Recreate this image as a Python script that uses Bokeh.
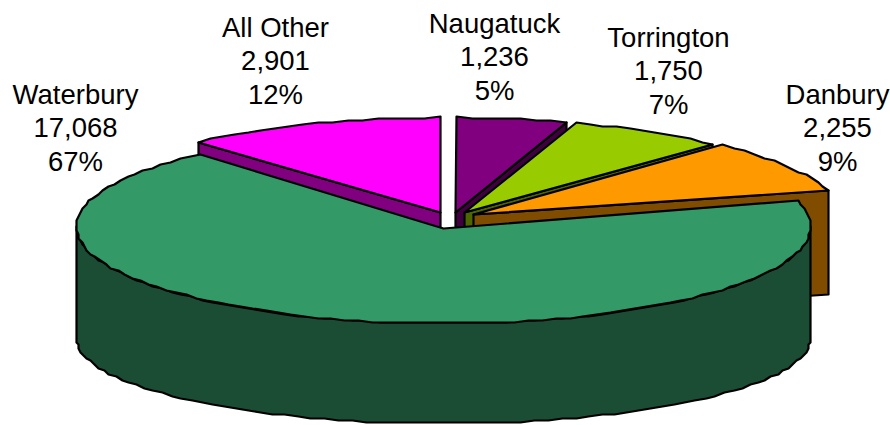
import numpy as np
from bokeh.plotting import figure
from bokeh.models import Range1d
from bokeh.core.properties import value
from bokeh.embed import file_html
from bokeh.resources import INLINE

categories = ["Naugatuck", "Torrington", "Danbury", "Waterbury", "All Other"]
amounts = [1236, 1750, 2255, 17068, 2901]
amount_labels = ["1,236", "1,750", "2,255", "17,068", "2,901"]
percent_labels = ["5%", "7%", "9%", "67%", "12%"]
top_colors = ["#800080", "#99CC00", "#FF9900", "#339966", "#FF00FF"]
side_colors = ["#400040", "#4D6600", "#804D00", "#1A4D33", "#800080"]

W, H = 890, 425
p = figure(width=W, height=H, output_backend="svg", toolbar_location=None,
           x_range=Range1d(0, W), y_range=Range1d(H, 0), min_border=0)
p.axis.visible = False
p.grid.visible = False
p.outline_line_color = None
p.background_fill_color = "white"

RX, RY, RY_BOTTOM = 367, 97, 85
WALL_DROP = 112
CUT_DEPTH = 104
# centre of each slice's ellipse and the y of its apex
centres_x = [455, 464, 473, 443, 440]
centres_y = [214, 215, 216, 226, 214]
apex_y = [212, 212, 214, 228, 212]
total = sum(amounts)
edges = np.concatenate([[0], np.cumsum(amounts)]) / total * 2 * np.pi


def jag(v, step=2.0):
    return np.round(np.asarray(v) / step) * step


def arc(a0, a1, cx, cy, ry=RY):
    # the reference's outline is a polyline snapped to a pixel grid
    n = max(6, int((a1 - a0) / np.radians(2.2)))
    n += n % 2  # even count: no lone vertex at the lowest point
    t = np.linspace(a0, a1, n)
    return jag(cx + RX * np.sin(t)), jag(cy - ry * np.cos(t))


def draw(xs, ys, color):
    p.patch(list(xs), list(ys), fill_color=color, line_color="black",
            line_width=2.2, line_join="round")


# Back slices first, Waterbury last because it overlaps everything
for i in [4, 0, 1, 2, 3]:
    a0, a1 = edges[i], edges[i + 1]
    cx, cy, ay0 = centres_x[i], centres_y[i], apex_y[i]
    ax, ay = arc(a0, a1, cx, cy)
    if i == 3:
        tx, ty = arc(np.pi / 2, 3 * np.pi / 2, cx, cy)
        bx, by = arc(np.pi / 2, 3 * np.pi / 2, cx, cy + WALL_DROP, RY_BOTTOM)
        draw(np.r_[tx, bx[::-1]], np.r_[ty, by[::-1]], side_colors[i])
    else:
        ex, ey = (ax[0], ay[0]) if i == 4 else (ax[-1], ay[-1])
        draw([cx, ex, ex, cx], [ay0, ey, ey + CUT_DEPTH, ay0 + CUT_DEPTH], side_colors[i])
    draw(np.r_[cx, ax], np.r_[ay0, ay], top_colors[i])

label_x = [494, 668, 837, 75, 275]
label_y = [23, 37, 94, 94, 27]
line_offsets = [0, 33, 67]
for i in range(5):
    for j, txt in enumerate([categories[i], amount_labels[i], percent_labels[i]]):
        p.text([label_x[i]], [label_y[i] + line_offsets[j]], text=[txt], text_align="center",
               text_baseline="middle", text_font=value("Liberation Sans"),
               text_font_size="27.5px", text_color="black")

open("out.html", "w").write(file_html(p, INLINE))
